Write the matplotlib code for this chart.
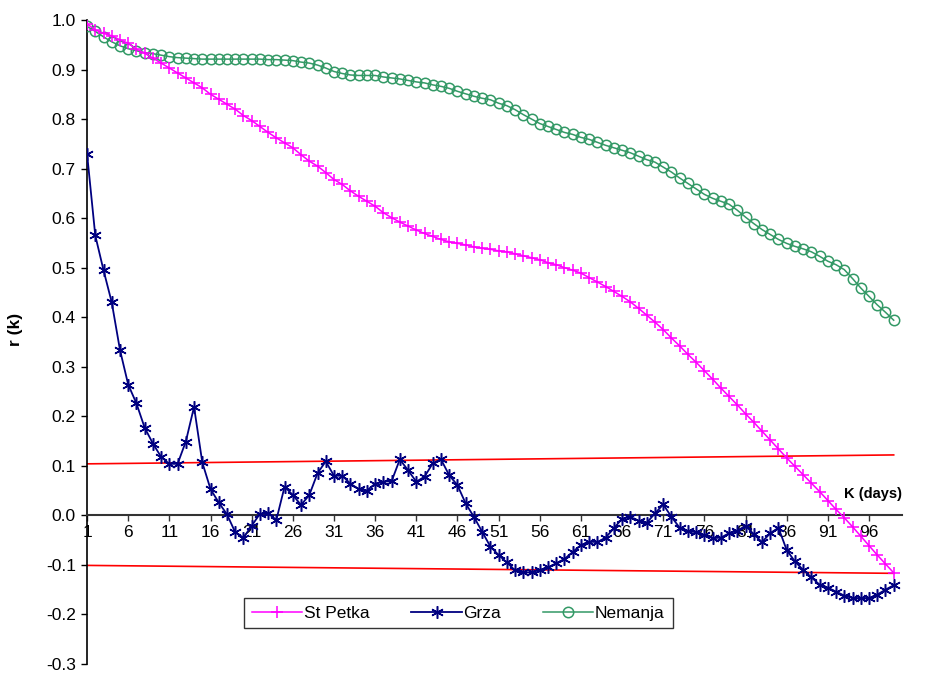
import numpy as np
import matplotlib.pyplot as plt

plt.rcParams['font.family'] = ['Liberation Sans', 'DejaVu Sans']

# lag k = 1 .. 99
lags = np.arange(1, 100)

st_petka = [
    0.992, 0.980, 0.973, 0.968, 0.960, 0.953, 0.941, 0.933, 0.923, 0.913,
    0.903, 0.893, 0.883, 0.873, 0.863, 0.850, 0.840, 0.830, 0.820, 0.807,
    0.797, 0.785, 0.773, 0.762, 0.752, 0.742, 0.728, 0.715, 0.705, 0.692,
    0.678, 0.668, 0.655, 0.644, 0.634, 0.624, 0.611, 0.601, 0.592, 0.584,
    0.576, 0.569, 0.563, 0.557, 0.552, 0.549, 0.546, 0.542, 0.539, 0.537,
    0.534, 0.532, 0.528, 0.524, 0.520, 0.516, 0.510, 0.506, 0.500, 0.495,
    0.489, 0.480, 0.471, 0.462, 0.452, 0.442, 0.431, 0.418, 0.404, 0.390,
    0.375, 0.358, 0.342, 0.325, 0.309, 0.292, 0.275, 0.257, 0.240, 0.223,
    0.205, 0.188, 0.170, 0.152, 0.134, 0.116, 0.099, 0.082, 0.065, 0.048,
    0.030, 0.012, -0.005, -0.023, -0.042, -0.061, -0.080, -0.098, -0.116,
]

grza = [
    0.730, 0.565, 0.495, 0.430, 0.334, 0.264, 0.226, 0.177, 0.145, 0.118,
    0.104, 0.104, 0.149, 0.219, 0.107, 0.053, 0.026, 0.002, -0.034, -0.045,
    -0.021, 0.003, 0.004, -0.009, 0.058, 0.041, 0.021, 0.041, 0.085, 0.109,
    0.080, 0.080, 0.064, 0.053, 0.050, 0.064, 0.068, 0.069, 0.113, 0.091,
    0.068, 0.078, 0.105, 0.113, 0.081, 0.061, 0.024, -0.003, -0.033, -0.063,
    -0.080, -0.095, -0.111, -0.115, -0.115, -0.110, -0.105, -0.097, -0.088, -0.074,
    -0.060, -0.053, -0.054, -0.045, -0.026, -0.007, -0.003, -0.011, -0.015, 0.004,
    0.022, -0.003, -0.025, -0.032, -0.034, -0.040, -0.046, -0.045, -0.036, -0.031,
    -0.021, -0.038, -0.054, -0.036, -0.025, -0.070, -0.093, -0.110, -0.125, -0.140,
    -0.146, -0.154, -0.162, -0.167, -0.167, -0.167, -0.160, -0.150, -0.141,
]

nemanja = [
    0.987, 0.977, 0.966, 0.956, 0.948, 0.942, 0.938, 0.934, 0.932, 0.929,
    0.926, 0.924, 0.923, 0.922, 0.921, 0.921, 0.921, 0.921, 0.921, 0.921,
    0.921, 0.921, 0.920, 0.920, 0.919, 0.918, 0.915, 0.913, 0.909, 0.903,
    0.896, 0.892, 0.889, 0.888, 0.888, 0.888, 0.885, 0.883, 0.881, 0.878,
    0.875, 0.873, 0.869, 0.866, 0.862, 0.856, 0.851, 0.846, 0.842, 0.839,
    0.832, 0.827, 0.819, 0.809, 0.800, 0.791, 0.785, 0.779, 0.773, 0.769,
    0.763, 0.759, 0.753, 0.747, 0.742, 0.737, 0.732, 0.725, 0.718, 0.713,
    0.703, 0.693, 0.681, 0.670, 0.659, 0.648, 0.640, 0.634, 0.628, 0.616,
    0.602, 0.589, 0.577, 0.567, 0.557, 0.549, 0.543, 0.538, 0.532, 0.523,
    0.513, 0.506, 0.496, 0.478, 0.459, 0.442, 0.425, 0.410, 0.394,
]

# confidence band end points
band_k = [1, 99]
band_upper = [0.104, 0.122]
band_lower = [-0.101, -0.117]

xtick_pos = list(range(1, 100, 5))
ytick_pos = [round(-0.3 + 0.1 * i, 1) for i in range(14)]


def main():
    fig = plt.figure(figsize=(9.26, 6.73), dpi=100)
    ax = fig.add_axes([0.094, 0.0134, 0.880, 0.9569])
    ax.set_xlim(1, 100)
    ax.set_ylim(-0.3, 1.0)

    ax.plot(band_k, band_upper, color='#ff0000', lw=1.2, zorder=2)
    ax.plot(band_k, band_lower, color='#ff0000', lw=1.2, zorder=2)

    ax.plot(lags, st_petka, color='#ff00ff', lw=1.1, marker='+', ms=8,
            mew=1.1, label='St Petka', zorder=4)
    ax.plot(lags, grza, color='#000080', lw=1.3, marker=(6, 2, 0), ms=9,
            mew=1.1, label='Grza', zorder=5)
    ax.plot(lags, nemanja, color='#339966', lw=1.1, marker='o', ms=7.5,
            mfc='none', mew=1.1, label='Nemanja', zorder=3)

    for side in ('top', 'right'):
        ax.spines[side].set_visible(False)
    ax.spines['bottom'].set_position(('data', 0))
    ax.spines['bottom'].set_color('#333333')
    ax.spines['bottom'].set_linewidth(1.5)
    ax.spines['left'].set_linewidth(1.2)

    ax.set_xticks(xtick_pos)
    ax.set_xticklabels([str(v) for v in xtick_pos])
    ax.set_yticks(ytick_pos)
    ax.set_yticklabels([f'{v:.1f}' for v in ytick_pos])
    ax.tick_params(axis='x', direction='out', length=4, width=1,
                   labelsize=12.5, pad=3, color='#333333')
    ax.tick_params(axis='y', direction='out', length=4, width=1,
                   labelsize=12.5, pad=4)

    ax.text(100, 0.043, 'K (days)', ha='right', va='center',
            fontsize=10.5, fontweight='bold')
    fig.text(0.017, 0.51, 'r (k)', rotation=90, ha='center', va='center',
             fontsize=12.5, fontweight='bold')

    leg = fig.legend(loc='center', bbox_to_anchor=(0.495, 0.089), ncol=3,
                     fontsize=12.5, frameon=True, fancybox=False,
                     edgecolor='black', handlelength=2.9, columnspacing=2.4,
                     borderpad=0.45, handletextpad=0.1)
    leg.get_frame().set_linewidth(1.0)

    fig.savefig('out.png', dpi=100)


if __name__ == '__main__':
    main()
